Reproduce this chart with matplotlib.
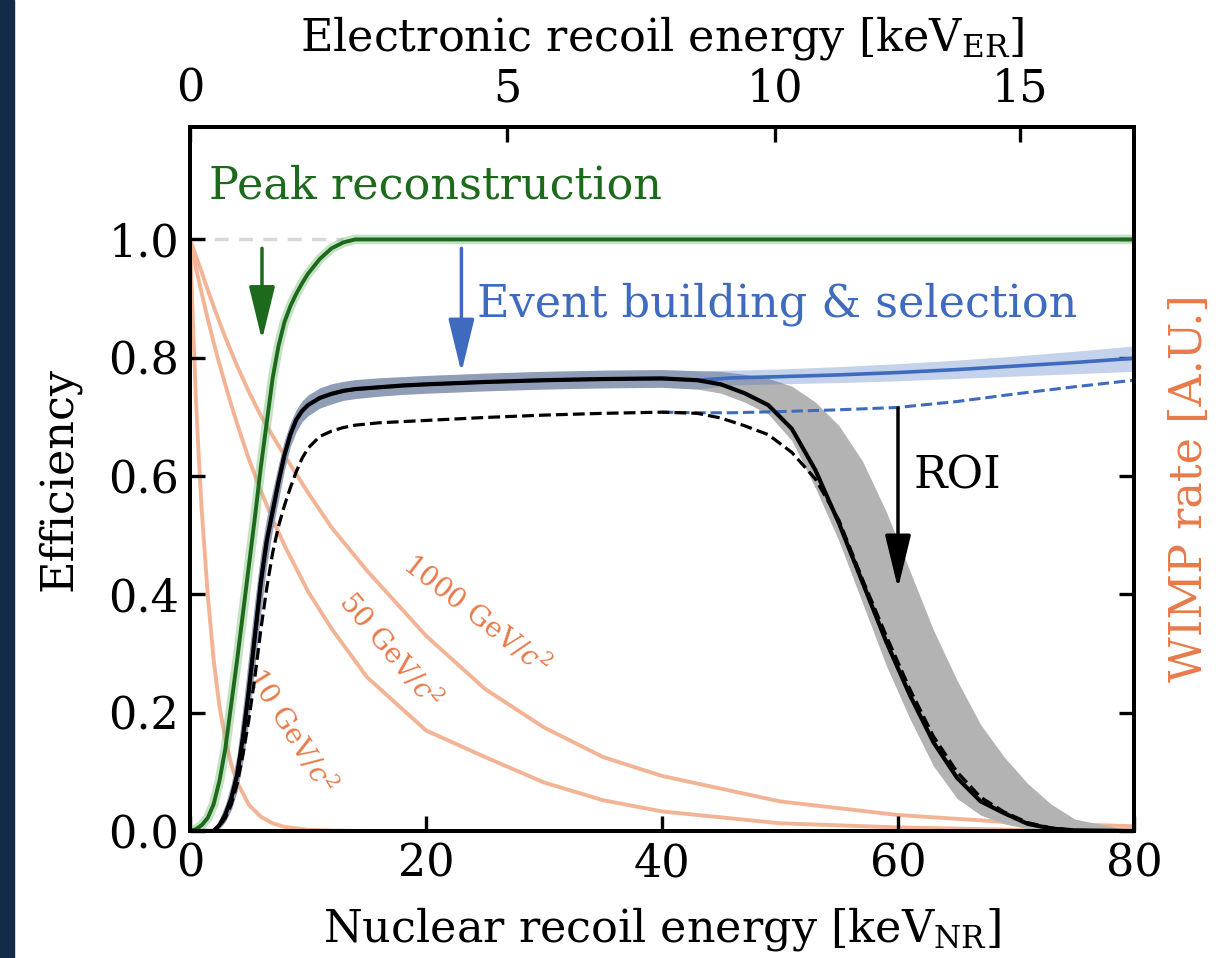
import matplotlib

matplotlib.use("Agg")

import matplotlib.pyplot as plt
from matplotlib.patches import Rectangle

plt.rcParams["font.family"] = ["DejaVu Serif"]
plt.rcParams["mathtext.fontset"] = "dejavuserif"

GREEN = "#1d6a1d"
BLUE = "#3f6bbf"
ORANGE_LINE = "#f3b496"
ORANGE_TEXT = "#e87a4a"

# peak reconstruction efficiency
green_x = [0, 0.5, 1, 1.5, 2, 2.5, 3, 3.5, 4, 4.5, 5, 5.5, 6, 6.5, 7, 7.5, 8, 8.5, 9, 9.5,
           10, 11, 12, 13, 14, 80]
green_y = [0, 0.003, 0.01, 0.022, 0.045, 0.085, 0.14, 0.215, 0.29, 0.37, 0.45, 0.53, 0.615,
           0.69, 0.765, 0.82, 0.86, 0.887, 0.908, 0.926, 0.942, 0.967, 0.985, 0.995, 1.0, 1.0]

# total efficiency (solid) and total without ROI cut (dashed)
black_x = [0, 2, 2.5, 3, 3.5, 4, 4.5, 5, 5.5, 6, 6.5, 7, 7.5, 8, 8.5, 9, 9.5, 10, 11, 12, 13,
           14, 16, 18, 20, 25, 30, 35, 40, 43, 45, 47, 49, 51, 53, 55, 57, 59, 61, 63, 65, 67,
           69, 71, 73, 75, 80]
black_y = [0, 0, 0.01, 0.028, 0.055, 0.095, 0.16, 0.24, 0.33, 0.42, 0.49, 0.54, 0.59, 0.635,
           0.67, 0.695, 0.71, 0.72, 0.732, 0.739, 0.744, 0.747, 0.75, 0.753, 0.755, 0.759,
           0.762, 0.764, 0.765, 0.762, 0.755, 0.74, 0.72, 0.68, 0.61, 0.52, 0.42, 0.32, 0.23,
           0.15, 0.09, 0.05, 0.03, 0.012, 0.004, 0.001, 0]
black_dash_y = [0, 0, 0.008, 0.022, 0.045, 0.08, 0.13, 0.19, 0.26, 0.34, 0.41, 0.47, 0.515,
                0.55, 0.58, 0.607, 0.63, 0.647, 0.667, 0.676, 0.682, 0.686, 0.69, 0.692, 0.694,
                0.699, 0.703, 0.706, 0.708, 0.706, 0.698, 0.685, 0.67, 0.64, 0.595, 0.525,
                0.425, 0.33, 0.24, 0.16, 0.1, 0.057, 0.032, 0.014, 0.005, 0.001, 0]
band_lo = [0, 0, 0.004, 0.016, 0.036, 0.068, 0.12, 0.19, 0.28, 0.37, 0.45, 0.51, 0.56, 0.61,
           0.65, 0.675, 0.692, 0.702, 0.715, 0.722, 0.728, 0.731, 0.735, 0.738, 0.74, 0.744,
           0.747, 0.749, 0.75, 0.747, 0.74, 0.725, 0.705, 0.66, 0.58, 0.49, 0.385, 0.28, 0.19,
           0.11, 0.055, 0.027, 0.012, 0.004, 0.001, 0, 0]
band_hi = [0, 0.002, 0.02, 0.045, 0.08, 0.13, 0.21, 0.3, 0.39, 0.47, 0.53, 0.575, 0.62, 0.66,
           0.69, 0.712, 0.727, 0.737, 0.749, 0.756, 0.76, 0.763, 0.766, 0.768, 0.77, 0.774,
           0.777, 0.779, 0.78, 0.778, 0.777, 0.772, 0.765, 0.752, 0.725, 0.685, 0.625, 0.54,
           0.44, 0.34, 0.255, 0.18, 0.125, 0.08, 0.045, 0.02, 0]

# event building & selection: identical to the total below ~43 keV
N_SHARED = 30
blue_tail_x = [46, 50, 55, 60, 65, 70, 75, 80]
blue_tail_y = [0.766, 0.768, 0.771, 0.775, 0.78, 0.786, 0.792, 0.799]
blue_tail_lo = [0.754, 0.756, 0.758, 0.761, 0.765, 0.769, 0.773, 0.777]
blue_tail_hi = [0.779, 0.781, 0.785, 0.79, 0.796, 0.803, 0.811, 0.82]
blue_dash_x = [40, 43, 46, 50, 55, 60, 65, 70, 75, 80]
blue_dash_y = [0.708, 0.707, 0.707, 0.709, 0.712, 0.716, 0.726, 0.739, 0.751, 0.762]

ideal_x = [0, 13]
ideal_y = [1.0, 1.0]

# WIMP recoil spectra (arbitrary units)
wimp_x = [0, 0.25, 0.5, 0.75, 1, 1.5, 2, 2.5, 3, 3.5, 4, 5, 6, 7, 8, 10, 12, 15, 20, 25, 30,
          35, 40, 50, 60, 70, 80]
wimp_10 = [1, 0.86, 0.73, 0.63, 0.54, 0.4, 0.29, 0.21, 0.155, 0.112, 0.082, 0.044, 0.024,
           0.013, 0.007, 0.002, 0.0006, 0, 0, 0, 0, 0, 0, 0, 0, 0, 0]
wimp_50 = [1, 0.976, 0.952, 0.93, 0.908, 0.866, 0.826, 0.789, 0.754, 0.72, 0.688, 0.628,
           0.575, 0.527, 0.483, 0.405, 0.342, 0.26, 0.17, 0.125, 0.082, 0.052, 0.033, 0.013,
           0.006, 0.002, 0.001]
wimp_1000 = [1, 0.986, 0.972, 0.958, 0.944, 0.915, 0.887, 0.86, 0.834, 0.81, 0.786, 0.742,
             0.702, 0.668, 0.635, 0.572, 0.513, 0.44, 0.33, 0.24, 0.175, 0.125, 0.093, 0.05,
             0.027, 0.014, 0.008]

x_ticks = [0, 20, 40, 60, 80]
y_ticks = [0.0, 0.2, 0.4, 0.6, 0.8, 1.0]
er_tick_nr = [0, 26.9, 49.6, 70.3]
er_tick_labels = ["0", "5", "10", "15"]

blue_x = black_x[:N_SHARED] + blue_tail_x
blue_y = black_y[:N_SHARED] + blue_tail_y
blue_lo = band_lo[:N_SHARED] + blue_tail_lo
blue_hi = band_hi[:N_SHARED] + blue_tail_hi

FS = 32

fig = plt.figure(figsize=(12.29, 9.58), dpi=100, facecolor="white")
fig.patches.append(Rectangle((0, 0), 14 / 1229, 1, transform=fig.transFigure,
                             color="#142b48", zorder=0))
ax = fig.add_axes([0.1546, 0.1326, 0.7681, 0.7348])

for ys in [wimp_10, wimp_50, wimp_1000]:
    ax.plot(wimp_x, ys, color=ORANGE_LINE, lw=2.8, zorder=1)

ax.plot(ideal_x, ideal_y, color="#d8d8d8", lw=2.5, ls=(0, (4, 3)), zorder=1)

ax.fill_between(black_x, band_lo, band_hi, color="#b3b3b3", lw=0, zorder=2)
ax.fill_between(blue_x, blue_lo, blue_hi, color=BLUE, alpha=0.3, lw=0, zorder=3)
ax.plot(blue_x, blue_y, color=BLUE, lw=2.6, zorder=4)
ax.plot(blue_dash_x, blue_dash_y, color=BLUE, lw=2.2, ls="--", zorder=4)

ax.plot(green_x, green_y, color="#7fbf7f", lw=7, alpha=0.45, zorder=4)
ax.plot(green_x, green_y, color=GREEN, lw=2.8, zorder=5)

ax.plot(black_x, black_dash_y, color="black", lw=2.3, ls="--", zorder=5)
ax.plot(black_x, black_y, color="black", lw=3.0, zorder=6)

arrow = dict(arrowstyle="-|>,head_length=1.65,head_width=0.4", lw=2.5,
             mutation_scale=20, shrinkA=0, shrinkB=0)
ax.annotate("", xy=(6.1, 0.83), xytext=(6.1, 0.985),
            arrowprops=dict(arrow, color=GREEN), zorder=7)
ax.annotate("", xy=(23, 0.775), xytext=(23, 0.985),
            arrowprops=dict(arrow, color=BLUE), zorder=7)
ax.annotate("", xy=(60, 0.41), xytext=(60, 0.715),
            arrowprops=dict(arrow, color="black"), zorder=7)

ax.text(1.6, 1.09, "Peak reconstruction", color=GREEN, fontsize=FS, va="center")
ax.text(24.3, 0.89, "Event building & selection", color=BLUE, fontsize=FS, va="center")
ax.text(61.3, 0.6, "ROI", color="black", fontsize=FS, va="center")

ax.text(24.2, 0.365, "1000 GeV/$c^2$", color=ORANGE_TEXT, fontsize=20,
        rotation=-38, ha="center", va="center")
ax.text(16.9, 0.305, "50 GeV/$c^2$", color=ORANGE_TEXT, fontsize=20,
        rotation=-50, ha="center", va="center")
ax.text(8.6, 0.17, "10 GeV/$c^2$", color=ORANGE_TEXT, fontsize=20,
        rotation=-58, ha="center", va="center")

ax.set_xlim(0, 80)
ax.set_ylim(0, 1.19)
ax.set_xticks(x_ticks)
ax.set_yticks(y_ticks)
ax.set_yticklabels([f"{t:.1f}" for t in y_ticks])
ax.tick_params(direction="in", length=11, width=2.4, labelsize=FS, pad=8,
               right=True, top=False)
ax.set_xlabel("Nuclear recoil energy [keV$_\\mathrm{NR}$]", fontsize=FS, labelpad=14)
ax.set_ylabel("Efficiency", fontsize=FS, labelpad=20)
for spine in ax.spines.values():
    spine.set_linewidth(2.8)

axt = ax.twiny()
axt.set_xlim(ax.get_xlim())
axt.set_xticks(er_tick_nr)
axt.set_xticklabels(er_tick_labels)
axt.tick_params(direction="in", length=11, width=2.4, labelsize=FS, pad=12)
axt.set_xlabel("Electronic recoil energy [keV$_\\mathrm{ER}$]", fontsize=FS, labelpad=12)
for spine in axt.spines.values():
    spine.set_linewidth(2.8)

fig.text(0.968, 0.49, "WIMP rate [A.U.]", color=ORANGE_TEXT, fontsize=FS,
         rotation=90, ha="center", va="center")

fig.savefig("out.png", dpi=100, facecolor="white")
